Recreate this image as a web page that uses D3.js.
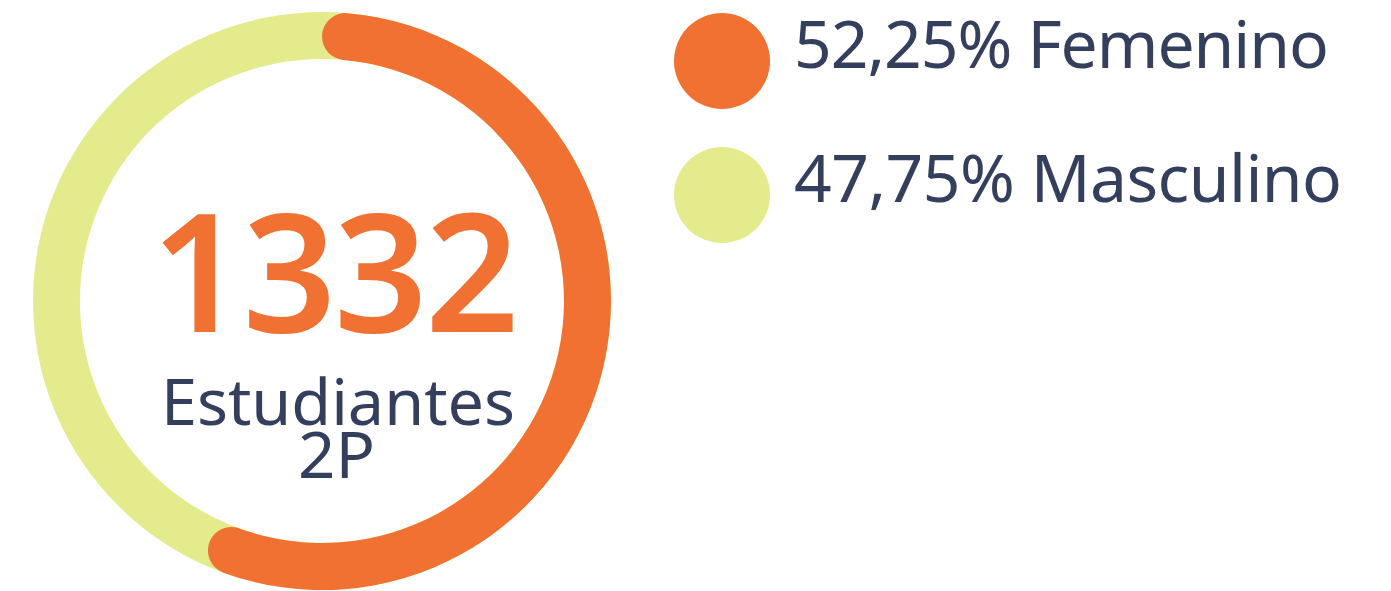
<!DOCTYPE html>
<html>
<head>
<meta charset="utf-8">
<script src="https://cdn.jsdelivr.net/npm/d3@7"></script>
<style>
  html, body { margin: 0; padding: 0; background: #fff; }
  svg { display: block; font-family: 'Noto Sans', 'Open Sans', sans-serif; }
</style>
</head>
<body>
<div id="chart"></div>
<script>
const categories = ['Femenino', 'Masculino'];
const shares = [52.25, 47.75];
const labels = ['52,25%', '47,75%'];
const colors = ['#F07132', '#E4EB8D'];
const total = 1332;
const caption = ['Estudiantes', '2P'];

const W = 1391, H = 591;
const svg = d3.select('#chart').append('svg')
    .attr('width', W)
    .attr('height', H);

const cx = 322, cy = 301;
const outerR = 289, innerR = 242;
const capR = (outerR - innerR) / 2;

// full track in the second colour
const ring = svg.append('g').attr('transform', `translate(${cx},${cy})`);
ring.append('path')
    .attr('fill', colors[1])
    .attr('d', d3.arc().innerRadius(innerR).outerRadius(outerR)
        .startAngle(0).endAngle(2 * Math.PI)());

// progress arc for the first share, with rounded ends
const sweep = d3.scaleLinear().domain([0, 100]).range([0, 2 * Math.PI * 1.09]);
ring.append('path')
    .attr('fill', colors[0])
    .attr('d', d3.arc().innerRadius(innerR).outerRadius(outerR)
        .cornerRadius(capR)
        .startAngle(0).endAngle(sweep(shares[0]))());

// centre labels
svg.append('text')
    .attr('x', 151).attr('y', 332)
    .attr('textLength', 368).attr('lengthAdjust', 'spacing')
    .attr('fill', colors[0])
    .style('font-size', '164px')
    .style('font-weight', '600')
    .text(total);

svg.append('text')
    .attr('x', 161).attr('y', 425)
    .attr('textLength', 354).attr('lengthAdjust', 'spacingAndGlyphs')
    .attr('fill', '#343F5E')
    .style('font-size', '63px')
    .text(caption[0]);

svg.append('text')
    .attr('x', 298).attr('y', 478)
    .attr('textLength', 77).attr('lengthAdjust', 'spacingAndGlyphs')
    .attr('fill', '#343F5E')
    .style('font-size', '63px')
    .text(caption[1]);

// legend
const y = d3.scalePoint().domain(categories).range([61, 195]);
const legendWidths = [535, 548];
const legend = svg.append('g').selectAll('g')
    .data(categories)
    .join('g')
    .attr('transform', d => `translate(0,${y(d)})`);

legend.append('circle')
    .attr('cx', 722).attr('cy', 0).attr('r', 48)
    .attr('fill', (d, i) => colors[i]);

legend.append('text')
    .attr('x', 794).attr('y', 7)
    .attr('textLength', (d, i) => legendWidths[i])
    .attr('lengthAdjust', 'spacing')
    .attr('fill', '#343F5E')
    .style('font-size', '66px')
    .text((d, i) => `${labels[i]} ${d}`);
</script>
</body>
</html>
